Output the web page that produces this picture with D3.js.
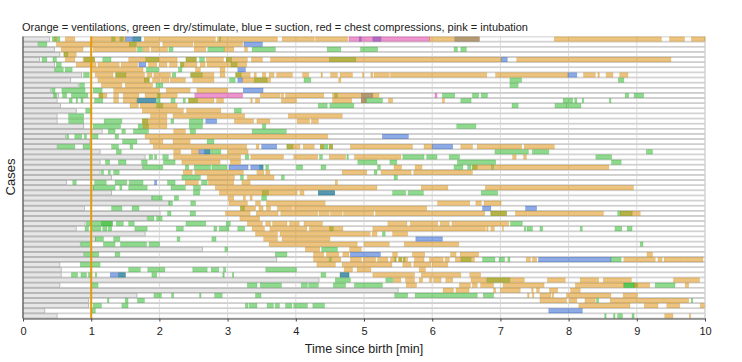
<!DOCTYPE html>
<html><head><meta charset="utf-8">
<script src="https://cdn.jsdelivr.net/npm/d3@7"></script>
<style>body{margin:0;background:#fff}svg{display:block;font-family:"Liberation Sans",Arial,Helvetica,sans-serif}</style>
</head><body><svg id="c" width="742" height="362"></svg>
<script>
const cases = d3.range(1, 56);
const grayEnd = [0.39,0.22,0.46,0.54,0.24,0.46,0.46,0.86,0.7,0.81, 0.4,0.52,0.5,0.55,0.78,0.5,0.5,0.89,1.16,0.62,
 0.98,0.5,1.13,1.79,1.13,1.75,1.13,1.3,0.64,1.03, 1.3,1.89,2.14,0.9,2.01,1.82,0.91,0.78,1.79,1.06,
 0.84,2.63,0.89,3.72,0.54,0.56,0.56,4.34,0.54,5.5, 1.67,0.96,0.96,0.32,0.5];
const ventilation = [
[0,0.46,0.49],[0,0.62,0.76],[0,1.0,1.5],[0,1.78,2.82],[0,2.85,3.73],[0,3.8,4.27],[0,4.29,4.76],[0,5.96,6.69],[0,7.79,9.36],[0,9.48,9.7],[0,9.8,10],
[1,0.49,1.0],[1,1.0,1.56],[1,1.56,2.0],[1,2.05,2.49],[1,2.51,3.22],
[2,0.56,0.88],[2,1.03,1.66],[2,1.76,1.85],[2,1.88,2.12],[2,2.51,2.68],[2,2.95,3.09],[2,3.25,3.29],
[3,0.6,0.78],
[4,0.62,0.76],[4,0.88,1.05],[4,1.55,1.99],[4,1.99,2.26],[4,2.39,2.54],[4,2.69,2.94],[4,2.98,3.29],[4,3.35,3.51],[4,3.63,7.01],[4,7.24,9.5],
[5,0.78,1.07],[5,1.1,1.41],[5,1.44,1.68],[5,1.84,1.96],[5,2.0,2.11],[5,2.15,2.26],[5,2.31,2.55],[5,2.6,2.67],[5,2.7,3.04],[5,3.05,3.28],
[6,1.02,1.76],[6,2.53,2.6],[6,2.89,2.96],
[7,1.06,1.32],[7,1.36,1.78],[7,1.82,1.89],[7,1.92,2.0],[7,2.01,2.16],[7,2.46,2.8],[7,2.89,2.96],[7,3.12,3.33],[7,3.39,3.42],[7,3.51,3.56],[7,3.61,3.68],[7,3.72,3.95],[7,4.1,4.19],[7,4.37,4.39],[7,4.51,4.61],[7,4.65,4.83],[7,4.98,5.0],[7,5.1,5.13],[7,5.15,5.37],[7,5.39,6.8],[7,6.93,7.99],[7,8.22,8.39],[7,8.43,8.45],[7,8.55,8.65],[7,8.75,8.87],
[8,1.1,1.78],[8,1.78,1.85],[8,1.9,2.0],[8,2.02,2.14],[8,2.16,2.38],[8,2.49,2.8],[8,3.22,3.63],[8,4.63,4.66],
[9,1.15,1.45],[9,1.5,1.9],
[10,1.33,2.0],[10,2.1,2.45],[10,2.55,3.0],
[11,1.11,1.23],[11,1.33,1.36],[11,1.37,1.4],[11,1.47,1.7],[11,1.79,2.26],[11,3.48,3.77],[11,3.79,3.82],[11,3.85,4.41],[11,4.54,5.22],
[12,1.33,1.4],[12,1.47,1.67],[12,2.43,2.8],[12,2.84,2.94],[12,3.34,3.36],[12,3.41,3.47],[12,3.79,4.01],[12,4.54,4.82],[12,4.96,5.03],[12,5.36,5.42],[12,6.15,6.18],
[13,1.57,1.69],[13,1.72,2.26],
[14,1.75,2.35],[14,2.4,2.9],
[15,1.87,2.11],[15,2.2,3.25],[15,3.89,4.68],
[16,1.75,2.11],[16,3.1,3.38],[16,3.43,3.62],[16,4.02,4.2],[16,4.23,4.33],
[17,1.76,2.11],
[18,2.21,2.38],
[19,1.79,4.47],
[20,1.86,2.05],[20,2.2,2.45],
[21,1.91,3.28],[21,3.42,3.46],[21,3.87,4.06],[21,4.11,4.27],[21,4.36,4.41],[21,4.49,4.54],[21,4.8,5.71],[21,5.88,6.0],[21,6.42,6.59],[21,6.66,7.31],[21,7.35,7.79],
[22,2.21,2.31],[22,2.47,2.58],[22,3.0,3.3],
[23,2.21,3.19],[23,3.34,3.82],[23,3.97,4.32],[23,4.49,4.73],[23,4.86,5.54],[23,7.18,7.23],[23,7.34,7.38],
[24,2.33,2.89],[24,3.04,3.19],
[25,5.44,5.55],[25,5.75,5.85],[25,6.59,6.88],[25,6.9,8.59],
[26,2.35,2.48],[26,2.52,3.23],[26,3.43,3.53],[26,3.56,3.62],[26,4.68,5.04],[26,5.25,5.69],[26,5.73,6.59],
[27,2.7,3.1],[27,3.29,3.68],
[28,2.38,2.57],[28,2.72,3.09],[28,3.21,3.33],[28,4.58,4.61],
[29,2.82,5.19],[29,5.84,6.23],[29,6.78,8.95],
[30,2.88,3.51],[30,3.51,4.02],[30,4.06,4.12],
[31,3.01,3.09],[31,3.23,3.26],[31,3.33,3.36],
[32,3.02,3.29],[32,3.41,3.48],[32,3.57,4.43],[32,6.08,6.55],[32,6.64,6.72],[32,6.76,7.01],
[33,3.19,3.41],[33,3.46,3.52],[33,3.57,3.63],[33,3.73,3.95],[33,3.97,5.92],
[34,2.97,3.33],[34,3.42,3.74],[34,3.78,4.32],[34,4.34,4.49],[34,4.51,4.68],[34,4.7,5.14],[34,5.17,6.77],[34,6.86,7.09],[34,7.22,7.39],[34,7.4,8.51],[34,8.76,8.93],[34,8.93,9.05],
[35,3.18,3.47],
[36,3.29,3.51],[36,3.56,3.63],[36,3.66,3.87],[36,3.91,4.05],[36,4.12,4.39],[36,5.35,5.63],[36,5.68,6.08],[36,6.12,6.25],[36,6.29,7.12],
[37,3.36,3.54],[37,3.62,4.16],[37,4.2,4.5],[37,4.5,4.69],[37,5.13,6.78],[37,6.8,6.82],[37,6.86,6.91],[37,7.03,7.04],
[38,3.41,3.73],[38,3.77,5.09],[38,5.12,5.19],[38,5.42,5.64],
[39,3.53,3.73],[39,3.8,4.5],
[40,3.61,4.9],[40,5.0,5.37],[40,5.59,6.39],
[41,4.14,4.35],[41,4.79,4.96],
[42,4.26,4.41],[42,4.45,4.63],[42,4.69,4.78],[42,5.42,5.49],[42,5.71,5.89],[42,6.27,6.35],[42,6.41,6.68],[42,9.15,9.23],
[43,4.26,4.49],[43,4.51,4.66],[43,4.8,4.96],[43,4.99,5.17],[43,5.2,5.35],[43,5.39,5.47],[43,5.5,5.56],[43,5.58,5.64],[43,5.74,5.88],[43,5.96,6.16],[43,6.19,6.25],[43,6.34,6.62],[43,7.38,7.44],[43,7.47,7.53],[43,8.81,9.27],[43,9.31,9.37],[43,9.4,9.7],[43,9.71,9.97],
[44,4.31,4.58],[44,4.68,5.41],[44,5.57,5.69],[44,5.73,5.98],[44,6.0,6.23],
[45,4.71,4.83],[45,4.9,5.1],[45,5.81,5.9],
[46,5.13,5.74],[46,5.84,6.42],[46,6.55,6.71],
[47,5.43,5.54],[47,5.61,5.74],[47,5.81,5.86],[47,5.96,5.99],[47,6.02,6.13],[47,6.2,6.3],[47,6.57,7.35],[47,7.69,7.95],[47,8.17,8.44],[47,8.51,8.92],[47,9.54,9.92],
[48,5.62,5.77],[48,6.4,6.56],[48,6.59,6.66],[48,6.71,6.9],[48,7.04,7.64],[48,8.1,8.81],[48,8.96,9.19],[48,9.71,9.76],
[49,6.16,6.31],[49,6.35,6.54],[49,6.9,6.93],[49,7.0,7.29],[49,7.46,7.48],[49,7.53,7.57],[49,7.72,7.84],[49,8.03,8.17],
[50,7.4,7.42],[50,7.47,7.49],[50,7.58,7.74],[50,7.76,7.78],[50,7.97,8.62],[50,8.8,9.01],
[51,7.58,7.97],[51,8.01,8.12],[51,8.24,8.39],[51,8.61,9.76],
[52,8.15,8.9],[52,9.11,9.31],[52,9.44,9.63],[52,9.93,9.99],
[54,9.41,9.53],[54,9.77,9.79]
];
const dryStimulate = [
[0,0.43,0.54],[0,1.3,1.35],[0,1.42,1.47],[0,1.61,1.73],[0,2.88,2.9],
[1,0.23,0.35],[1,1.56,1.66],
[2,1.68,1.75],[2,2.14,2.2],[2,2.71,2.95],[2,3.36,3.7],[2,4.46,4.66],[2,4.95,5.2],[2,6.32,6.37],[2,6.42,6.5],
[3,0.6,0.66],
[4,0.28,0.35],[4,0.44,0.49],[4,0.9,1.05],[4,1.17,1.29],[4,1.8,1.99],[4,2.39,2.54],[4,2.59,2.66],[4,2.98,3.06],[4,4.49,4.88],
[5,0.49,0.56],[5,2.31,2.36],[5,3.05,3.14],
[6,0.47,0.59],[6,0.62,0.72],[6,1.81,1.99],[6,2.28,2.33],
[7,0.89,0.97],[7,1.36,1.51],[7,2.19,2.24],[7,2.46,2.63],[7,3.12,3.2],
[8,1.78,1.85],[8,3.03,3.11],[8,3.39,3.58],[8,4.12,4.22],[8,7.14,7.31],[8,8.73,8.81],
[9,0.83,0.9],[9,1.95,2.05],[9,7.14,7.26],
[10,0.42,0.47],[10,0.57,0.91],[10,1.03,1.16],
[11,0.45,0.49],[11,0.58,0.64],[11,0.71,0.95],[11,1.12,1.17],[11,1.97,2.01],[11,4.57,4.61],[11,6.15,6.33],[11,6.59,6.68],[11,6.72,6.81],[11,8.83,8.88],[11,8.96,9.1],
[12,0.68,0.72],[12,0.78,0.8],[12,0.85,0.88],[12,1.05,1.17],[12,1.67,1.94],[12,1.96,2.01],[12,2.17,2.23],[12,2.35,2.38],[12,2.43,2.56],[12,5.03,5.27],[12,6.42,6.57],[12,7.92,8.06],[12,8.09,8.12],[12,8.2,8.22],[12,8.6,8.62],
[13,1.96,2.05],[13,4.33,4.46],[13,4.5,4.85],[13,7.17,7.26],[13,7.8,7.97],[13,7.97,8.18],
[14,0.92,1.0],[14,3.1,3.2],
[15,0.67,0.89],
[16,0.67,0.89],[16,1.19,1.45],[16,1.75,1.83],[16,2.17,2.21],[16,2.44,2.64],
[17,1.03,1.43],[17,1.69,1.84],[17,2.44,2.63],[17,3.51,3.56],[17,6.36,6.64],
[18,1.25,1.35],[18,1.45,1.5],[18,1.62,1.84],[18,2.45,2.53],[18,3.36,3.86],
[19,0.64,0.67],[19,0.76,0.86],[19,0.9,0.93],[19,1.02,1.1],[19,1.35,1.4],
[20,1.46,1.67],[20,2.7,2.8],
[21,0.51,0.76],[21,0.88,0.98],[21,1.3,1.4],[21,1.57,1.61],[21,3.87,3.96],[21,4.36,4.47],[21,4.49,4.54],
[22,1.37,1.44],[22,2.66,2.9],[22,6.92,7.41],[22,7.47,7.71],[22,9.14,9.23],
[23,1.85,1.9],[23,1.93,1.96],[23,2.05,2.13],[23,3.26,3.31],[23,4.35,4.39],[23,4.75,4.77],[23,5.57,5.88],[23,5.92,6.07],[23,6.25,6.4],[23,8.4,8.63],
[24,1.21,1.27],[24,1.4,1.51],[24,1.74,1.82],[24,2.06,2.23],[24,4.91,5.19],[24,5.38,5.48],[24,6.37,6.93],[24,8.63,8.77],
[25,1.76,2.05],[25,2.38,2.43],[25,2.51,2.75],[25,2.77,2.99],[25,3.47,3.52],[25,3.56,3.6],[25,4.01,4.1],[25,4.37,4.44],[25,5.2,5.24],[25,6.32,6.45],[25,6.52,6.57],[25,6.59,6.66],[25,6.87,6.9],
[26,1.15,1.18],[26,1.25,1.28],[26,1.33,1.41],[26,5.15,5.19],
[27,2.33,2.6],[27,3.19,3.23],[27,3.79,3.83],[27,5.44,5.49],
[28,0.73,0.78],[28,1.05,1.11],[28,1.12,1.22],[28,1.35,1.52],[28,1.56,1.76],[28,2.12,2.23],[28,2.62,2.7],
[29,1.03,1.35],[29,1.42,1.45],[29,1.55,1.82],[29,2.17,2.38],[29,2.5,2.6],
[30,2.5,2.59],[30,3.51,3.6],[30,4.33,4.57],[30,5.42,5.61],[30,5.65,5.87],[30,6.72,6.96],
[31,1.89,2.04],[31,2.22,2.28],[31,3.5,3.57],
[32,2.14,2.19],[32,2.46,2.53],
[33,1.3,1.45],[33,1.6,1.7],[33,3.19,3.25],
[34,2.12,2.17],[34,2.45,2.53],[34,6.86,7.09],[34,8.72,8.76],[34,8.76,8.93],
[35,1.83,1.92],[35,1.96,2.04],
[36,0.93,1.14],[36,1.15,1.31],[36,1.15,1.31],[36,1.37,1.47],[36,1.55,1.63],[36,2.39,2.68],[36,2.98,3.04],[36,7.15,7.32],
[37,0.91,0.96],[37,1.0,1.14],[37,1.17,1.23],[37,1.25,1.3],[37,1.64,1.82],[37,2.25,2.35],[37,2.8,2.84],[37,2.88,3.02],[37,3.15,3.25],[37,4.5,4.55],[37,7.35,7.37],[37,7.39,7.47],[37,7.58,7.62],[37,8.17,8.2],[37,8.68,8.78],[37,8.86,8.93],
[38,5.27,5.31],
[39,1.06,1.18],[39,1.33,1.42],[39,2.26,2.3],[39,2.77,2.83],
[40,0.85,0.98],[40,1.18,1.35],[40,1.43,1.81],[40,1.85,2.0],[40,9.05,9.09],
[41,2.96,3.0],[41,4.38,4.61],
[42,0.9,1.11],[42,1.35,1.42],[42,3.7,3.87],
[43,4.49,4.52],[43,5.45,5.47],[43,5.52,5.55],[43,5.58,5.6],[43,6.42,6.57],[43,6.74,6.92],[43,6.98,7.06],[43,7.11,7.14],[43,8.62,8.77],
[44,0.84,1.13],
[45,1.55,1.72],[45,1.83,2.08],[45,2.49,2.7],[45,2.76,2.87],[45,2.94,2.97],[45,3.56,4.01],
[46,0.71,0.8],[46,0.85,0.93],[46,0.96,1.01],[46,1.06,1.08],[46,1.4,1.5],[46,1.89,1.96],[46,2.93,2.95],[46,3.07,3.09],[46,4.37,4.44],[46,4.65,4.78],
[47,4.58,4.8],[47,5.32,5.42],[47,6.8,7.14],
[48,1.0,1.1],[48,3.29,3.43],[48,3.48,3.79],[48,4.08,4.17],[48,4.19,4.33],[48,4.55,4.73],[48,4.86,5.27],[48,8.81,8.96],[48,8.81,8.96],[48,8.96,9.01],[48,9.27,9.56],
[50,1.92,2.03],[50,2.18,2.21],[50,2.59,2.61],[50,2.81,2.92],[50,3.41,3.49],[50,5.45,5.64],[50,5.75,6.66],[50,6.75,6.9],
[51,1.24,1.26],[51,1.5,1.54],[51,1.68,1.78],[51,8.41,8.44],[51,9.8,9.82],
[52,1.03,1.15],[52,1.45,1.54],[52,3.26,3.3],[52,3.32,3.43],[52,3.58,3.67],[52,3.7,3.76],[52,3.85,3.94],[52,3.97,4.17],[52,4.25,4.42],
[53,1.01,1.06],
[54,8.53,8.55],[54,8.66,8.68],[54,8.72,8.79],[54,8.93,8.96]
];
const suction = [
[0,1.5,1.73],[0,4.93,4.96],[0,5.13,5.25],[0,6.33,6.69],
[1,3.24,3.51],[4,7.01,7.1],[5,1.7,1.8],[6,3.15,3.26],[7,7.99,8.12],[8,3.15,3.22],[10,3.23,3.52],
[11,4.96,5.13],[12,1.68,1.95],[12,4.96,5.03],[16,2.68,2.84],[19,5.27,5.65],[21,3.5,3.72],[21,6.0,6.3],
[22,2.58,2.74],[25,3.02,3.3],[25,3.34,3.52],[28,1.93,1.96],[30,4.33,4.57],[33,6.74,6.86],[33,7.37,7.53],
[39,5.76,6.15],[42,4.8,5.24],[43,7.56,8.62],[46,1.28,1.5],[46,4.65,4.78],[53,7.71,8.2]
];
const compressions = [];
const intubation = [[0,4.78,5.96],[11,2.52,3.22],[11,6.04,6.07]];
const xTicks = [0,1,2,3,4,5,6,7,8,9,10];
const titleText = "Orange = ventilations, green = dry/stimulate, blue = suction, red = chest compressions, pink = intubation";

const svg = d3.select('#c');
const x = d3.scaleLinear().domain([0, 10]).range([23, 705]);
const y = d3.scaleBand().domain(d3.range(cases.length)).range([36.5, 318.5]).padding(0);
const bw = y.bandwidth();

// row frames
svg.append('g').selectAll('rect').data(cases).join('rect')
  .attr('x', x(0)).attr('width', x(10) - x(0))
  .attr('y', (d, i) => y(i) + 0.4).attr('height', bw - 0.8)
  .attr('fill', '#fff').attr('stroke', '#c4c4c4').attr('stroke-width', 0.8);

// grid
svg.append('g').selectAll('line').data(xTicks.slice(1)).join('line')
  .attr('x1', d => x(d)).attr('x2', d => x(d)).attr('y1', 36.5).attr('y2', 318.5)
  .attr('stroke', '#d2d2d2').attr('stroke-width', 0.8);

// gray (before observation)
svg.append('g').selectAll('rect').data(grayEnd).join('rect')
  .attr('x', x(0)).attr('width', d => x(d) - x(0))
  .attr('y', (d, i) => y(i) + 0.5).attr('height', bw - 1)
  .attr('fill', '#e6e6e6').attr('stroke', '#a8a8a8').attr('stroke-width', 0.7);

function segs(data, color) {
  svg.append('g').selectAll('rect').data(data).join('rect')
    .attr('x', d => x(d[1])).attr('width', d => Math.max(0.9, x(d[2]) - x(d[1])))
    .attr('y', d => y(d[0]) + 0.4).attr('height', bw - 0.8)
    .attr('fill', color).attr('fill-opacity', 0.5)
    .attr('stroke', color).attr('stroke-opacity', 0.4).attr('stroke-width', 0.6);
}
segs(dryStimulate, '#21b521');
segs(suction, '#1955cd');
segs(ventilation, '#d98a00');
segs(intubation, '#d92d9b');
segs(compressions, '#d62728');

// 1 minute line
svg.append('line').attr('x1', x(1)).attr('x2', x(1)).attr('y1', 36.5).attr('y2', 318.5)
  .attr('stroke', '#e69a0a').attr('stroke-width', 2);

// axes
svg.append('line').attr('x1', x(0)).attr('x2', x(0)).attr('y1', 36.5).attr('y2', 318.5)
  .attr('stroke', '#444').attr('stroke-width', 1);
const ax = svg.append('g').attr('transform', 'translate(0,318.5)')
  .call(d3.axisBottom(x).tickValues(xTicks).tickFormat(d3.format('d')).tickSize(3).tickSizeOuter(0).tickPadding(6));
ax.select('.domain').attr('stroke', '#444');
ax.selectAll('.tick line').attr('stroke', '#444');
ax.selectAll('text').attr('font-size', 11).attr('fill', '#222').attr('font-family', '"Liberation Sans",Arial,sans-serif');

svg.append('text').attr('x', 364).attr('y', 353).attr('text-anchor', 'middle')
  .attr('font-size', 12.5).attr('fill', '#222').text('Time since birth [min]');
svg.append('text').attr('transform', 'translate(15,177) rotate(-90)').attr('text-anchor', 'middle')
  .attr('font-size', 13).attr('fill', '#222').text('Cases');
svg.append('text').attr('x', 22).attr('y', 31).attr('font-size', 11).attr('fill', '#222').text(titleText);
</script></body></html>
